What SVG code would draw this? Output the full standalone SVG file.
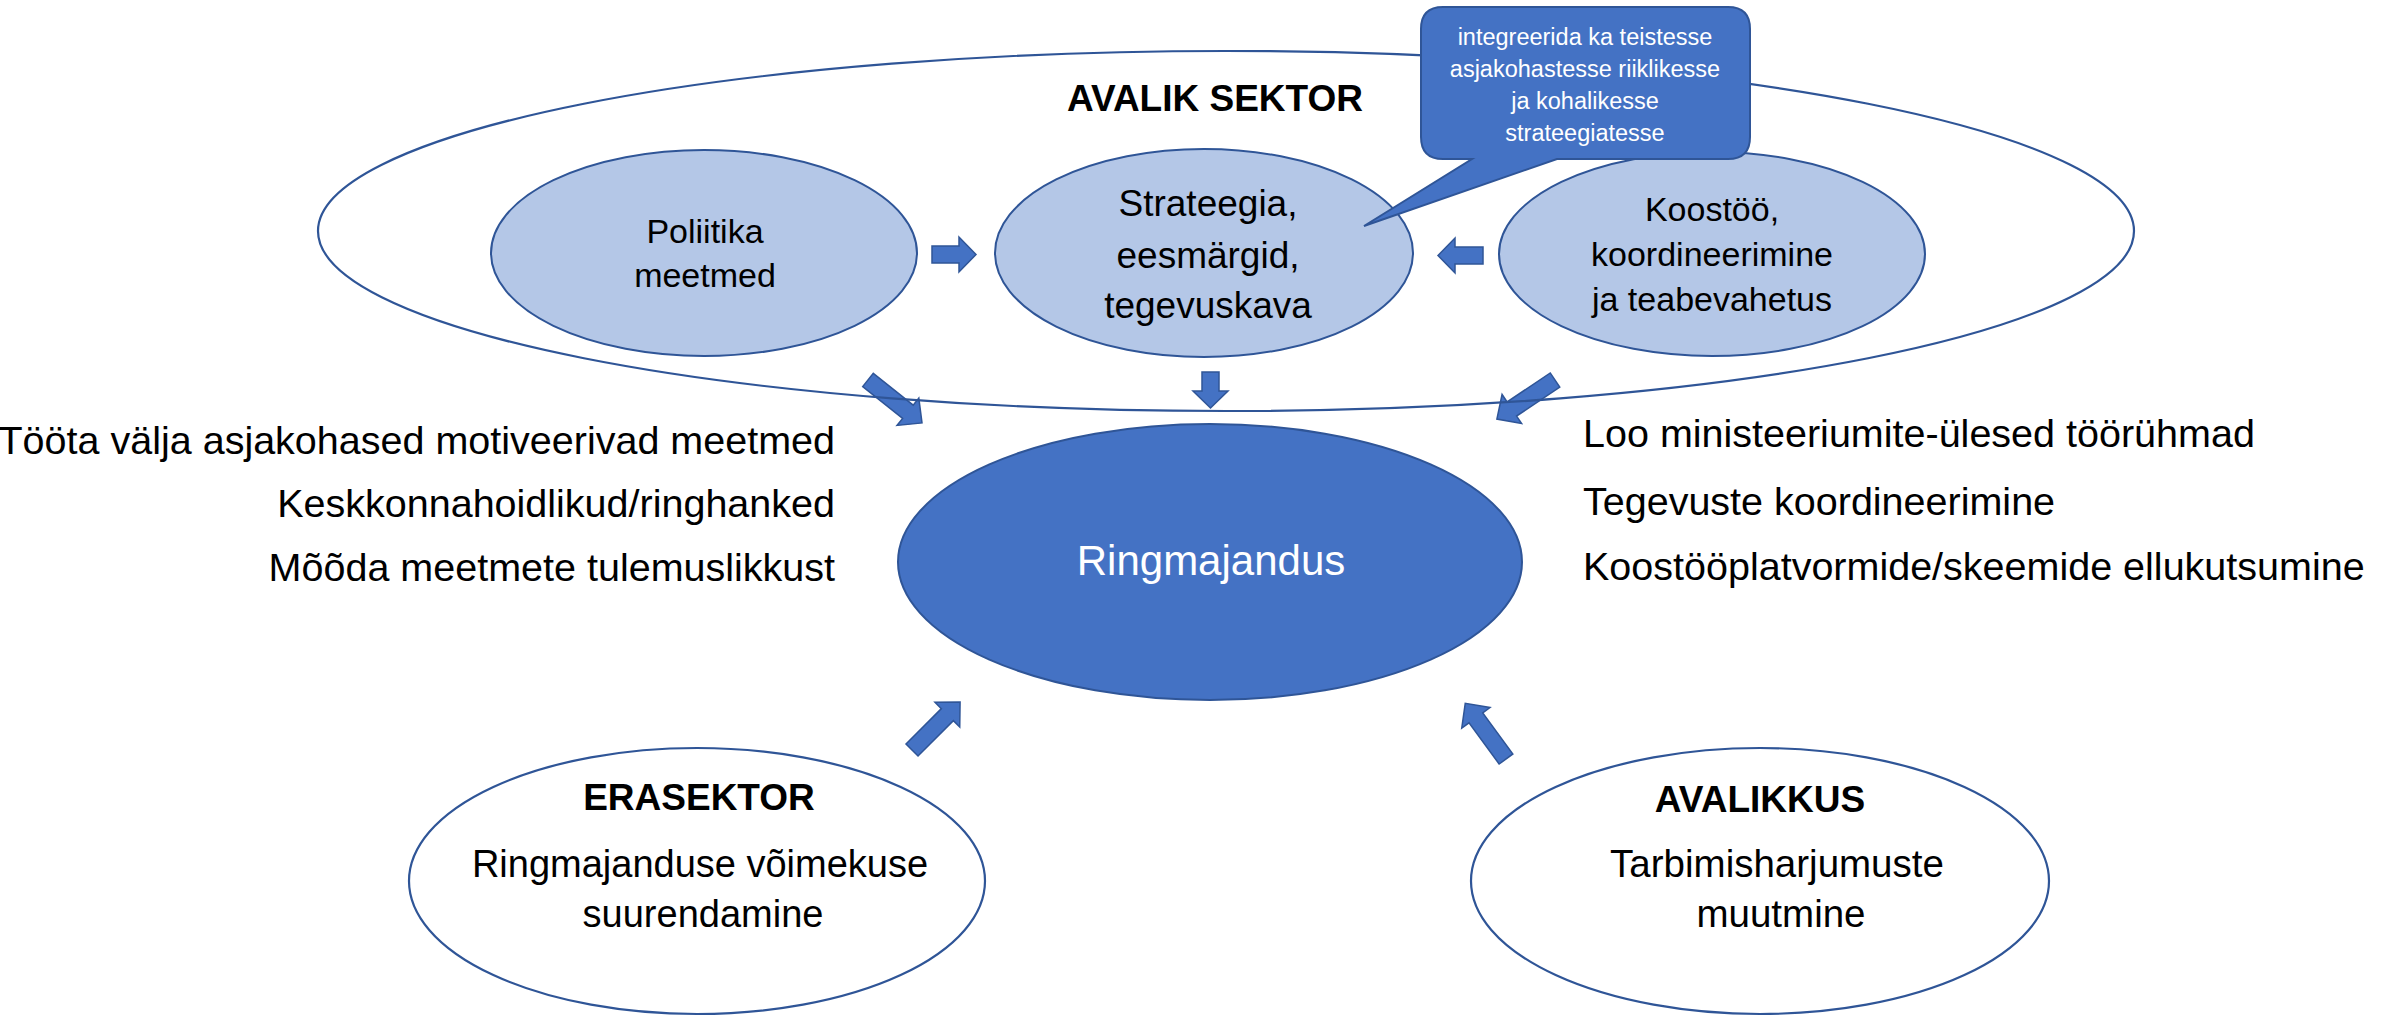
<svg xmlns="http://www.w3.org/2000/svg" width="2395" height="1019" viewBox="0 0 2395 1019">
<style>
text{font-family:"Liberation Sans",Arial,sans-serif;fill:#000}
.sub{fill:#B4C7E7;stroke:#2F5597;stroke-width:2}
.main{fill:#4472C4;stroke:#2F5597;stroke-width:2}
.plain{fill:#fff;stroke:#2F5597;stroke-width:2.2}
.outer{fill:none;stroke:#2F5597;stroke-width:2.2}
.arr{fill:#4472C4;stroke:#2F5597;stroke-width:1.5;stroke-linejoin:miter}
.c{text-anchor:middle}
.w{fill:#fff}
.b{font-weight:bold}
</style>
<rect width="2395" height="1019" fill="#fff"/>
<g id="connectors">
  <path class="arr" transform="translate(932,254.5)" d="M0,-8.5H27V-17.5L44,0L27,17.5V8.5H0Z"/>
  <path class="arr" transform="translate(1483,255.5) rotate(180)" d="M0,-8.5H28V-17.5L45,0L28,17.5V8.5H0Z"/>
  <path class="arr" transform="translate(1210.5,372) rotate(90)" d="M0,-8.5H19V-17.5L36,0L19,17.5V8.5H0Z"/>
  <path class="arr" transform="translate(868,380) rotate(38.5)" d="M0,-8.5H51V-17.5L69,0L51,17.5V8.5H0Z"/>
  <path class="arr" transform="translate(1555,380) rotate(146.1)" d="M0,-8.5H52V-17.5L70,0L52,17.5V8.5H0Z"/>
  <path class="arr" transform="translate(912,750) rotate(-45)" d="M0,-8.5H50V-17.5L68,0L50,17.5V8.5H0Z"/>
  <path class="arr" transform="translate(1506,759) rotate(-126.2)" d="M0,-8.5H51V-17.5L69,0L51,17.5V8.5H0Z"/>
</g>
<g id="avalik-sektor">
  <ellipse class="outer" cx="1226" cy="231" rx="908" ry="180"/>
  <text class="c b" x="1215" y="111" font-size="37">AVALIK SEKTOR</text>
</g>
<g id="poliitika">
  <ellipse class="sub" cx="704" cy="253" rx="213" ry="103"/>
  <text class="c" x="705" y="243" font-size="34">Poliitika</text>
  <text class="c" x="705" y="287" font-size="34">meetmed</text>
</g>
<g id="strateegia">
  <ellipse class="sub" cx="1204" cy="253" rx="209" ry="104"/>
  <text class="c" x="1208" y="216" font-size="37">Strateegia,</text>
  <text class="c" x="1208" y="268" font-size="37">eesmärgid,</text>
  <text class="c" x="1208" y="318" font-size="37">tegevuskava</text>
</g>
<g id="koostoo">
  <ellipse class="sub" cx="1712" cy="254" rx="213" ry="102"/>
  <text class="c" x="1712" y="221" font-size="34">Koostöö,</text>
  <text class="c" x="1712" y="266" font-size="34">koordineerimine</text>
  <text class="c" x="1712" y="311" font-size="34">ja teabevahetus</text>
</g>
<g id="callout">
  <path class="main" d="M1443,7H1728Q1750,7 1750,29V137Q1750,159 1728,159H1557L1364,226L1472,159H1443Q1421,159 1421,137V29Q1421,7 1443,7Z"/>
  <text class="c w" x="1585" y="45" font-size="23.5">integreerida ka teistesse</text>
  <text class="c w" x="1585" y="77" font-size="23.5">asjakohastesse riiklikesse</text>
  <text class="c w" x="1585" y="109" font-size="23.5">ja kohalikesse</text>
  <text class="c w" x="1585" y="141" font-size="23.5">strateegiatesse</text>
</g>
<g id="ringmajandus">
  <ellipse class="main" cx="1210" cy="562" rx="312" ry="138"/>
  <text class="c w" x="1211" y="575" font-size="42">Ringmajandus</text>
</g>
<g id="left-notes" font-size="39.5" text-anchor="end">
  <text x="835" y="454">Tööta välja asjakohased motiveerivad meetmed</text>
  <text x="835" y="517">Keskkonnahoidlikud/ringhanked</text>
  <text x="835" y="581">Mõõda meetmete tulemuslikkust</text>
</g>
<g id="right-notes" font-size="39.5">
  <text x="1583" y="447">Loo ministeeriumite-ülesed töörühmad</text>
  <text x="1583" y="515">Tegevuste koordineerimine</text>
  <text x="1583" y="580">Koostööplatvormide/skeemide ellukutsumine</text>
</g>
<g id="erasektor">
  <ellipse class="plain" cx="697" cy="881" rx="288" ry="133"/>
  <text class="c b" x="699" y="810" font-size="37">ERASEKTOR</text>
  <text class="c" x="700" y="877" font-size="38">Ringmajanduse võimekuse</text>
  <text class="c" x="703" y="927" font-size="38">suurendamine</text>
</g>
<g id="avalikkus">
  <ellipse class="plain" cx="1760" cy="881" rx="289" ry="133"/>
  <text class="c b" x="1760" y="812" font-size="37">AVALIKKUS</text>
  <text class="c" x="1777" y="877" font-size="38.5">Tarbimisharjumuste</text>
  <text class="c" x="1781" y="927" font-size="38.5">muutmine</text>
</g>
</svg>
